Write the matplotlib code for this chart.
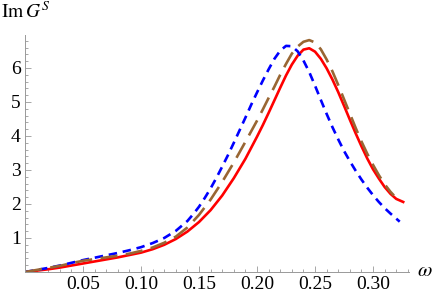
import numpy as np
import matplotlib.pyplot as plt
from matplotlib.ticker import MultipleLocator

plt.rcParams['font.family'] = ['Liberation Serif', 'DejaVu Serif']
plt.rcParams['mathtext.fontset'] = 'stix'

# red solid curve
w_red = [0.0, 0.01, 0.02, 0.03, 0.04, 0.05, 0.06, 0.07, 0.08, 0.09, 0.10, 0.11,
         0.12, 0.13, 0.14, 0.15, 0.16, 0.17, 0.18, 0.19, 0.20, 0.205, 0.21, 0.215,
         0.22, 0.225, 0.23, 0.235, 0.24, 0.245, 0.25, 0.255, 0.26, 0.265, 0.27,
         0.275, 0.28, 0.285, 0.29, 0.295, 0.30, 0.305, 0.31, 0.315, 0.32, 0.326]
g_red = [0.0, 0.04, 0.08, 0.13, 0.19, 0.25, 0.31, 0.37, 0.43, 0.50, 0.57, 0.67,
         0.80, 0.97, 1.19, 1.47, 1.82, 2.25, 2.76, 3.33, 3.98, 4.32, 4.68, 5.05,
         5.42, 5.78, 6.10, 6.36, 6.54, 6.58, 6.48, 6.27, 5.99, 5.66, 5.29,
         4.89, 4.48, 4.08, 3.70, 3.34, 3.02, 2.75, 2.50, 2.30, 2.15, 2.06]

# blue short dashes
w_blue = [0.0, 0.01, 0.02, 0.03, 0.04, 0.05, 0.06, 0.07, 0.08, 0.09, 0.10, 0.11,
          0.12, 0.13, 0.14, 0.145, 0.15, 0.155, 0.16, 0.165, 0.17, 0.175, 0.18,
          0.185, 0.19, 0.195, 0.20, 0.205, 0.21, 0.215, 0.22, 0.225, 0.23, 0.235,
          0.24, 0.245, 0.25, 0.255, 0.26, 0.265, 0.27, 0.275, 0.28, 0.285, 0.29,
          0.295, 0.30, 0.305, 0.31, 0.315, 0.323]
g_blue = [0.0, 0.06, 0.12, 0.19, 0.27, 0.35, 0.42, 0.49, 0.56, 0.64, 0.73, 0.85,
          1.00, 1.21, 1.50, 1.70, 1.92, 2.18, 2.46, 2.77, 3.10, 3.44, 3.80,
          4.17, 4.54, 4.92, 5.28, 5.63, 5.96, 6.27, 6.51, 6.65, 6.64, 6.49,
          6.22, 5.88, 5.48, 5.06, 4.65, 4.26, 3.90, 3.56, 3.26, 2.98, 2.72,
          2.48, 2.26, 2.06, 1.88, 1.72, 1.48]

# brown long dashes
w_brown = [0.0, 0.01, 0.02, 0.03, 0.04, 0.05, 0.06, 0.07, 0.08, 0.09, 0.10, 0.11,
           0.12, 0.13, 0.14, 0.15, 0.16, 0.17, 0.18, 0.19, 0.20, 0.205, 0.21, 0.215,
           0.22, 0.225, 0.23, 0.235, 0.24, 0.245, 0.25, 0.255, 0.26, 0.265, 0.27,
           0.275, 0.28, 0.285, 0.29, 0.295, 0.30, 0.305, 0.31, 0.315, 0.318]
g_brown = [0.0, 0.06, 0.12, 0.18, 0.26, 0.33, 0.38, 0.43, 0.48, 0.54, 0.62, 0.72,
           0.86, 1.04, 1.31, 1.68, 2.13, 2.65, 3.22, 3.83, 4.45, 4.78, 5.12, 5.45,
           5.80, 6.12, 6.42, 6.63, 6.77, 6.82, 6.75, 6.55, 6.25, 5.90, 5.50,
           5.08, 4.66, 4.24, 3.84, 3.48, 3.15, 2.85, 2.58, 2.36, 2.25]

fig = plt.figure(figsize=(4.36, 3.0), dpi=100)
ax = fig.add_axes([25/436, 28/300, 384/436, 237/300])

ax.plot(w_red, g_red, color=(1, 0, 0), lw=1.9, solid_joinstyle='round')
ax.plot(w_blue, g_blue, color=(0, 0, 1), lw=1.9, dashes=(3.2, 2.2))
ax.plot(w_brown, g_brown, color=(0.6, 0.4, 0.2), lw=1.9, dashes=(6.5, 3.2))

ax.set_xlim(0, 0.331)
ax.set_ylim(0, 6.97)

for s in ['top', 'right']:
    ax.spines[s].set_visible(False)
for s in ['left', 'bottom']:
    ax.spines[s].set_color('#999999')
    ax.spines[s].set_linewidth(0.7)

ax.xaxis.set_minor_locator(MultipleLocator(0.01))
ax.yaxis.set_minor_locator(MultipleLocator(0.2))
ax.set_xticks([0.05, 0.10, 0.15, 0.20, 0.25, 0.30])
ax.set_xticklabels(['0.05', '0.10', '0.15', '0.20', '0.25', '0.30'])
ax.set_yticks([1, 2, 3, 4, 5, 6])
ax.tick_params(which='both', direction='in', color='#999999', width=0.6,
               labelsize=14, labelcolor='black')
ax.tick_params(which='major', length=4, pad=3)
ax.tick_params(which='minor', length=2)

fig.text(1/436, 1 - 12/300, r'$\mathrm{Im}\,G^S$', fontsize=14, va='center', ha='left')
fig.text(417/436, 1 - 272/300, r'$\omega$', fontsize=15, va='center', ha='left')

fig.savefig('out.png', dpi=100)
